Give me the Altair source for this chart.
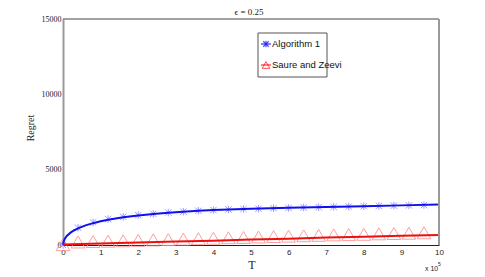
import altair as alt
import pandas as pd

# Algorithm 1 (solid line)
blue_x = [0, 0.02, 0.05, 0.1, 0.2, 0.3, 0.4, 0.6, 0.8, 1.0, 1.2, 1.6, 2.0, 2.4, 2.8, 3.2, 3.6, 4.0, 5.0, 6.0, 7.0, 8.0, 9.0, 10.0]
blue_y = [0, 250, 420, 600, 820, 980, 1100, 1300, 1450, 1570, 1680, 1840, 1960, 2060, 2140, 2210, 2270, 2320, 2410, 2470, 2530, 2580, 2630, 2690]
# Algorithm 1 markers
mk_x = [0, 0.4, 0.8, 1.2, 1.6, 2.0, 2.4, 2.8, 3.2, 3.6, 4.0, 4.4, 4.8, 5.2, 5.6, 6.0, 6.4, 6.8, 7.2, 7.6, 8.0, 8.4, 8.8, 9.2, 9.6]
blue_mk = [0, 1150, 1500, 1720, 1870, 1980, 2070, 2150, 2210, 2270, 2320, 2360, 2390, 2410, 2440, 2460, 2490, 2510, 2530, 2550, 2570, 2590, 2610, 2630, 2650]
# Saure and Zeevi (solid line)
red_x = [0, 1, 2, 3, 4, 5, 6, 7, 8, 9, 10]
red_y = [40, 100, 160, 230, 290, 360, 420, 490, 550, 610, 660]
red_mk = [20, 200, 230, 250, 280, 310, 340, 360, 390, 420, 450, 480, 500, 530, 560, 590, 610, 640, 670, 690, 710, 740, 760, 780, 810]

x_ticks = [0, 1, 2, 3, 4, 5, 6, 7, 8, 9, 10]
y_ticks = [0, 5000, 10000, 15000]
series = ["Algorithm 1", "Saure and Zeevi"]

blue_df = pd.DataFrame({"T": blue_x, "R": blue_y})
red_df = pd.DataFrame({"T": red_x, "R": red_y})
mk_df = pd.DataFrame({"T": mk_x, "B": blue_mk, "S": red_mk})

SANS = "Liberation Sans"
SERIF = "Liberation Serif"

xs = alt.Scale(domain=[0, 10], nice=False)
ys = alt.Scale(domain=[0, 15000], nice=False)

xaxis = alt.Axis(values=x_ticks, title=None, ticks=False, labelFont=SANS, labelFontSize=8,
                 labelColor="#222", domainColor="#222", domainWidth=1, grid=False, labelPadding=3,
                 labelFlush=False, labelOverlap=False, format="d")
yaxis = alt.Axis(values=y_ticks, title=None, ticks=False, labelFont=SERIF, labelFontSize=8,
                 labelColor="#222", domainColor="#999", domainWidth=2, grid=False, labelPadding=2,
                 labelOverlap=False, format="d")

star = "M-1,-1L1,1M1,-1L-1,1M0,-1.2L0,1.2"

X = lambda f: alt.X(f, type="quantitative", scale=xs, axis=xaxis)
Y = lambda f: alt.Y(f, type="quantitative", scale=ys, axis=yaxis)

blue_line = alt.Chart(blue_df).mark_line(color="#1010ee", strokeWidth=2).encode(x=X("T"), y=Y("R"))
red_line = alt.Chart(red_df).mark_line(color="#ee1010", strokeWidth=2).encode(x=X("T"), y=Y("R"))
blue_pts = alt.Chart(mk_df).mark_point(shape=star, size=40, color="#8c8cff", strokeWidth=1, opacity=0.85).encode(
    x=X("T"), y=Y("B"))
red_pts = alt.Chart(mk_df).mark_point(shape="triangle-up", size=190, color="#ff8c8c", strokeWidth=1, opacity=0.85).encode(
    x=X("T"), y=Y("S"))

# frame: top and right
frame_top = alt.Chart(pd.DataFrame({"a": [0]})).mark_rule(color="#444", strokeWidth=1).encode(
    x=alt.value(0), x2=alt.value(376), y=alt.value(0))
frame_right = alt.Chart(pd.DataFrame({"a": [0]})).mark_rule(color="#999", strokeWidth=2).encode(
    x=alt.value(376), y=alt.value(0), y2=alt.value(226))

# legend
leg_box = alt.Chart(pd.DataFrame({"a": [0]})).mark_rect(fill="white", stroke="#555", strokeWidth=1).encode(
    x=alt.value(195), x2=alt.value(264), y=alt.value(14), y2=alt.value(58))
leg_df = pd.DataFrame({"s": series, "yy": [25, 46]})
leg_lines = alt.Chart(leg_df).mark_rule(strokeWidth=1).encode(
    x=alt.value(198), x2=alt.value(208), y=alt.Y("yy:Q", scale=None),
    color=alt.Color("s:N", scale=alt.Scale(domain=series, range=["#0000ff", "#ff0000"]), legend=None))
leg_star = alt.Chart(leg_df.iloc[[0]]).mark_point(shape=star, size=30, color="#0000ff", strokeWidth=1.2).encode(
    x=alt.value(203), y=alt.Y("yy:Q", scale=None))
leg_tri = alt.Chart(leg_df.iloc[[1]]).mark_point(shape="triangle-up", size=60, color="#ff0000", strokeWidth=1).encode(
    x=alt.value(203), y=alt.Y("yy:Q", scale=None))
leg_text = alt.Chart(leg_df).mark_text(align="left", baseline="middle", font=SANS, fontSize=9.5, color="#111").encode(
    x=alt.value(209), y=alt.Y("yy:Q", scale=None), text="s:N")

# texts
title_t = alt.Chart(pd.DataFrame({"t": ["\u03f5 = 0.25"]})).mark_text(font=SERIF, fontSize=9, color="#222", baseline="middle").encode(
    x=alt.value(186), y=alt.value(-7), text="t:N")
xlab = alt.Chart(pd.DataFrame({"t": ["T"]})).mark_text(font=SERIF, fontSize=12, color="#222", baseline="middle").encode(
    x=alt.value(189), y=alt.value(226 + 20), text="t:N")
ylab = alt.Chart(pd.DataFrame({"t": ["Regret"]})).mark_text(font=SERIF, fontSize=10, color="#222", angle=270, baseline="middle").encode(
    x=alt.value(-32), y=alt.value(109), text="t:N")
x10 = alt.Chart(pd.DataFrame({"t": ["x 10"]})).mark_text(font=SANS, fontSize=7, color="#222", align="left", baseline="middle").encode(
    x=alt.value(362), y=alt.value(226 + 24), text="t:N")
x5 = alt.Chart(pd.DataFrame({"t": ["5"]})).mark_text(font=SANS, fontSize=5, color="#222", align="left", baseline="middle").encode(
    x=alt.value(375), y=alt.value(226 + 19), text="t:N")

chart = alt.layer(
    blue_pts, red_pts, blue_line, red_line, frame_top, frame_right,
    leg_box, leg_lines, leg_star, leg_tri, leg_text,
    title_t, xlab, ylab, x10, x5,
).properties(
    width=376, height=226, autosize="none",
    padding={"left": 55, "top": 11, "right": 30, "bottom": 30},
    background="white",
).configure_view(stroke=None).configure_axis(labelOverlap=False)

chart.save("out.html", embed_options={"renderer": "svg", "actions": False})
